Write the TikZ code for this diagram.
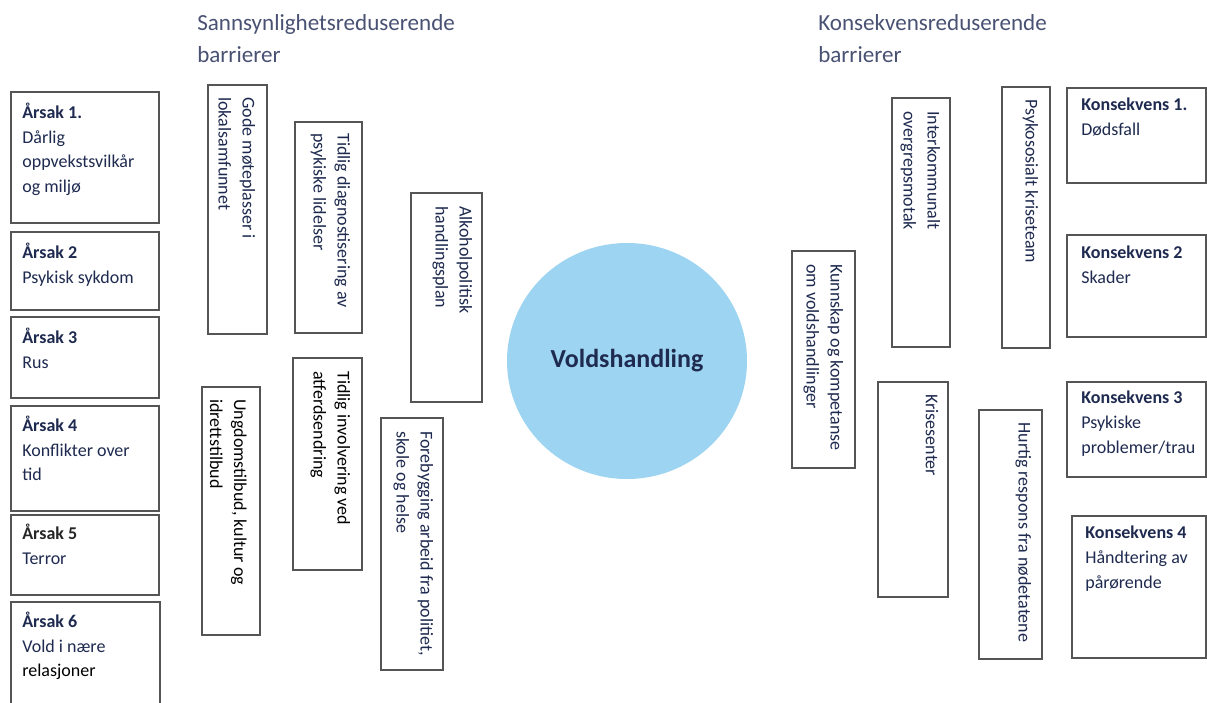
\documentclass[tikz,border=0pt]{standalone}
\usepackage{fontspec}
\setmainfont{Carlito}
\usetikzlibrary{fit,shapes.geometric}
\definecolor{navy}{HTML}{1E2A4F}
\definecolor{hdr}{HTML}{4A5274}
\definecolor{edge}{HTML}{555555}
\definecolor{bubble}{HTML}{9DD4F1}
\begin{document}
\begin{tikzpicture}[x=0.75pt,y=-0.75pt,
  box/.style={draw=edge, line width=1.4pt, inner sep=0pt, fill=white},
  htxt/.style={anchor=north west, inner sep=0pt, align=left, text=navy, font=\fontsize{13.5pt}{18.4pt}\selectfont},
  vtxt/.style={anchor=north west, inner sep=0pt, align=left, rotate=-90, text=navy, font=\fontsize{13.5pt}{18pt}\selectfont},
  hdrtxt/.style={anchor=north west, inner sep=0pt, align=left, text=hdr, font=\fontsize{17.3pt}{24.4pt}\selectfont},
  bubblestyle/.style={ellipse, fill=bubble, inner sep=0pt, minimum width=180pt, minimum height=177pt, text=navy, font=\fontsize{19.5pt}{23pt}\selectfont\bfseries}]
\useasboundingbox (0,0) rectangle (1207,703);
\clip (0,0) rectangle (1207,703);
\fill[white] (0,0) rectangle (1207,703);

% headers
\node[hdrtxt] (h1) at (197,14) {Sannsynlighetsreduserende\\barrierer};
\node[hdrtxt] (h2) at (818,14) {Konsekvensreduserende\\barrierer};

% causes
\node[box, fit={(11,92)(159,223)}] (a1) {};
\node[htxt] (a1t) at ([shift={(12,12)}]a1.north west) {\textbf{Årsak 1.}\\Dårlig\\oppvekstsvilkår\\og miljø};
\node[box, fit={(11,232)(159,310)}] (a2) {};
\node[htxt] (a2t) at ([shift={(12,12)}]a2.north west) {\textbf{Årsak 2}\\Psykisk sykdom};
\node[box, fit={(11,317)(159,398)}] (a3) {};
\node[htxt] (a3t) at ([shift={(12,12)}]a3.north west) {\textbf{Årsak 3}\\Rus};
\node[box, fit={(11,406)(159,511)}] (a4) {};
\node[htxt] (a4t) at ([shift={(12,11)}]a4.north west) {\textbf{Årsak 4}\\Konflikter over\\tid};
\node[box, fit={(11,515)(159,595)}] (a5) {};
\node[htxt] (a5t) at ([shift={(12,10)}]a5.north west) {\textbf{\color{black!85}Årsak 5}\\Terror};
\node[box, fit={(11,602)(160,730)}] (a6) {};
\node[htxt] (a6t) at ([shift={(12,11)}]a6.north west) {\textbf{Årsak 6}\\Vold i nære\\{\color{black}relasjoner}};

% probability reducing barriers
\node[box, fit={(208,85)(267,334)}] (b1) {};
\node[vtxt] (b1t) at ([shift={(-12.5,13)}]b1.north east) {Gode møteplasser i\\lokalsamfunnet};
\node[box, fit={(295,122)(362,333)}] (b2) {};
\node[vtxt] (b2t) at ([shift={(-12.5,12)}]b2.north east) {Tidlig diagnostisering av\\psykiske lidelser};
\node[box, fit={(411,193)(482,402)}] (b3) {};
\node[vtxt] (b3t) at ([shift={(-10.5,14)}]b3.north east) {Alkoholpolitisk\\handlingsplan};
\node[box, fit={(202,387)(260,635)}] (b4) {};
\node[vtxt, text=black] (b4t) at ([shift={(-14,13)}]b4.north east) {Ungdomstilbud, kultur og\\idrettstilbud};
\node[box, fit={(293,358)(362,570)}] (b5) {};
\node[vtxt, text=black] (b5t) at ([shift={(-12.5,14)}]b5.north east) {Tidlig involvering ved\\atferdsendring};
\node[box, fit={(381,418)(443,670)}] (b6) {};
\node[vtxt] (b6t) at ([shift={(-10.5,14)}]b6.north east) {Forebygging arbeid fra politiet,\\skole og helse};

% central event
\node[bubblestyle] (ev) at (627,361) {Voldshandling};

% consequence reducing barriers
\node[box, fit={(792,251)(855,468)}] (c1) {};
\node[vtxt] (c1t) at ([shift={(-12.5,14)}]c1.north east) {Kunnskap og kompetanse\\om voldshandlinger};
\node[box, fit={(892,98)(950,347)}] (c2) {};
\node[vtxt] (c2t) at ([shift={(-10.5,14)}]c2.north east) {Interkommunalt\\overgrepsmotak};
\node[box, fit={(1002,87)(1050,348)}] (c3) {};
\node[vtxt] (c3t) at ([shift={(-12.5,13)}]c3.north east) {Psykososialt kriseteam};
\node[box, fit={(878,382)(948,597)}] (c4) {};
\node[vtxt] (c4t) at ([shift={(-10.5,13)}]c4.north east) {Krisesenter};
\node[box, fit={(979,410)(1042,659)}] (c5) {};
\node[vtxt] (c5t) at ([shift={(-11.5,13)}]c5.north east) {Hurtig respons fra nødetatene};

% consequences
\node[box, fit={(1067,88)(1206,183)}] (k1) {};
\node[htxt] (k1t) at ([shift={(15,11)}]k1.north west) {\textbf{Konsekvens 1.}\\Dødsfall};
\node[box, fit={(1067,235)(1206,337)}] (k2) {};
\node[htxt] (k2t) at ([shift={(15,12)}]k2.north west) {\textbf{Konsekvens 2}\\Skader};
\node[box, fit={(1067,382)(1206,477)}] (k3) {};
\node[htxt] (k3t) at ([shift={(15,10)}]k3.north west) {\textbf{Konsekvens 3}\\Psykiske\\problemer/trau};
\node[box, fit={(1072,516)(1206,658)}] (k4) {};
\node[htxt] (k4t) at ([shift={(14,11)}]k4.north west) {\textbf{Konsekvens 4}\\Håndtering av\\pårørende};
\end{tikzpicture}
\end{document}
